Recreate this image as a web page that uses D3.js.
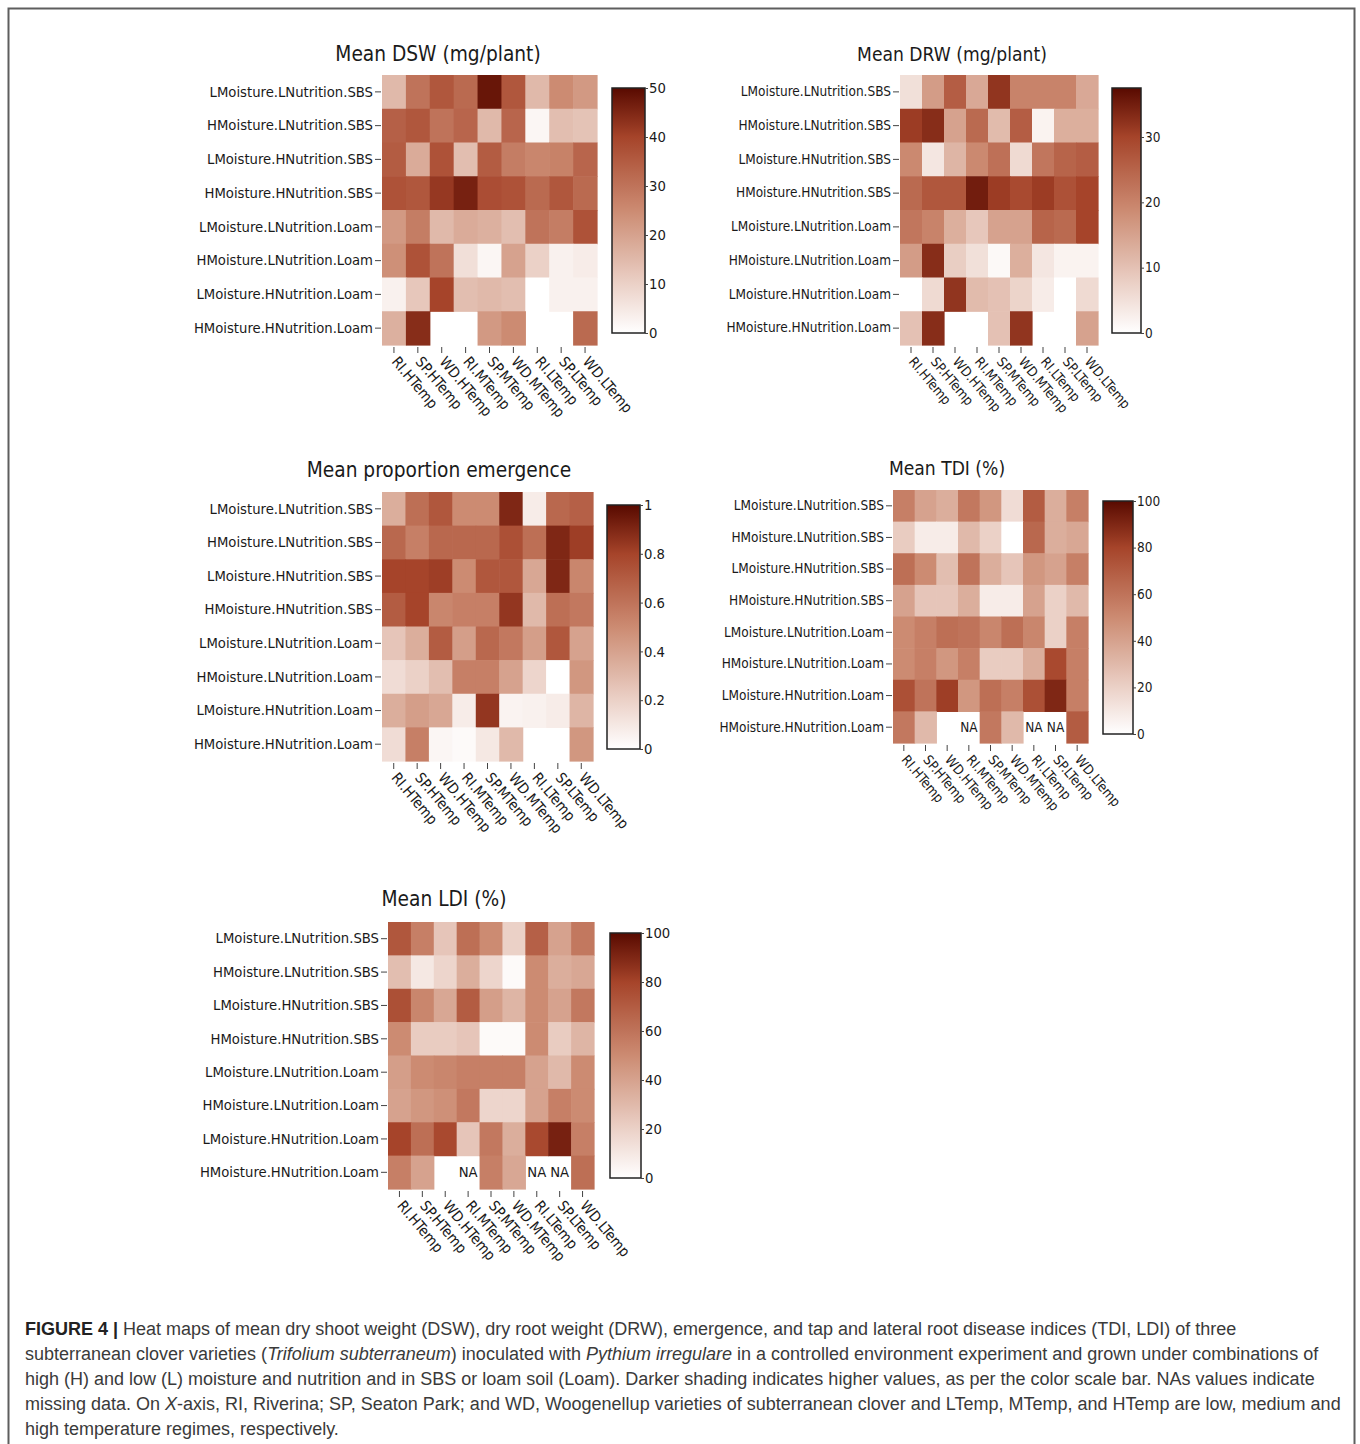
<!DOCTYPE html>
<html>
<head>
<meta charset="utf-8">
<script src="https://cdn.jsdelivr.net/npm/d3@7"></script>
<style>
  html, body { margin: 0; padding: 0; background: #fff; }
  svg { display: block; }
</style>
</head>
<body>
<script>
// ---------------- DATA ----------------
const rowLabels = [
  "LMoisture.LNutrition.SBS", "HMoisture.LNutrition.SBS",
  "LMoisture.HNutrition.SBS", "HMoisture.HNutrition.SBS",
  "LMoisture.LNutrition.Loam", "HMoisture.LNutrition.Loam",
  "LMoisture.HNutrition.Loam", "HMoisture.HNutrition.Loam"
];
const colLabels = ["RI.HTemp", "SP.HTemp", "WD.HTemp", "RI.MTemp", "SP.MTemp",
                   "WD.MTemp", "RI.LTemp", "SP.LTemp", "WD.LTemp"];

// null = empty cell, "NA" = empty cell labelled NA
const dswValues = [
  [15, 30, 36, 32, 48, 36, 15, 25, 22],
  [34, 36, 30, 33, 15, 33,  2, 14, 13],
  [35, 18, 37, 14, 35, 28, 26, 27, 33],
  [37, 36, 42, 46, 38, 37, 32, 36, 32],
  [22, 28, 15, 18, 17, 14, 30, 28, 37],
  [24, 37, 30,  7,  2, 20, 10,  3,  4],
  [ 3, 12, 40, 14, 15, 14,  0,  3,  3],
  [17, 44, null, null, 22, 25, null, null, 32]
];
const drwValues = [
  [ 5, 16, 26, 14, 32, 20, 20, 20, 14],
  [31, 33, 15, 24, 11, 26,  2, 13, 13],
  [19,  4, 12, 19, 23,  6, 22, 25, 26],
  [24, 27, 27, 35, 31, 29, 31, 28, 30],
  [22, 20, 13,  9, 15, 15, 25, 24, 30],
  [16, 33,  8,  5,  1, 13,  4,  2,  2],
  [ 0,  6, 32, 11, 10,  7,  3,  0,  6],
  [10, 33, null, null, 10, 32, null, null, 15]
];
const emergenceValues = [
  [0.35, 0.62, 0.72, 0.50, 0.50, 0.90, 0.08, 0.65, 0.68],
  [0.65, 0.55, 0.65, 0.65, 0.65, 0.75, 0.62, 0.90, 0.82],
  [0.80, 0.80, 0.82, 0.50, 0.72, 0.72, 0.38, 0.90, 0.52],
  [0.70, 0.80, 0.52, 0.55, 0.55, 0.85, 0.30, 0.62, 0.58],
  [0.25, 0.35, 0.70, 0.42, 0.65, 0.58, 0.42, 0.72, 0.40],
  [0.15, 0.20, 0.28, 0.55, 0.55, 0.40, 0.18, 0.00, 0.45],
  [0.35, 0.42, 0.38, 0.08, 0.85, 0.05, 0.06, 0.08, 0.32],
  [0.15, 0.55, 0.04, 0.02, 0.10, 0.30, null, null, 0.45]
];
const tdiValues = [
  [55, 40, 35, 58, 45, 15, 70, 35, 55],
  [22,  8,  8, 30, 20,  0, 65, 35, 38],
  [62, 50, 28, 60, 35, 25, 45, 40, 55],
  [40, 25, 25, 35,  8,  8, 40, 20, 30],
  [50, 55, 62, 60, 52, 62, 52, 20, 55],
  [50, 55, 45, 55, 22, 22, 35, 78, 55],
  [75, 60, 82, 45, 62, 55, 75, 90, 55],
  [58, 30, null, "NA", 58, 30, "NA", "NA", 70]
];
const ldiValues = [
  [72, 55, 25, 62, 50, 20, 68, 40, 58],
  [28, 10, 18, 35, 18,  2, 50, 35, 38],
  [75, 52, 38, 70, 42, 32, 50, 40, 58],
  [50, 22, 22, 25,  2,  2, 50, 22, 32],
  [42, 50, 52, 55, 55, 55, 40, 30, 50],
  [40, 45, 48, 58, 18, 18, 40, 55, 50],
  [80, 62, 78, 25, 58, 35, 78, 92, 55],
  [55, 40, null, "NA", 55, 38, "NA", "NA", 62]
];

const dswTicks = [0, 10, 20, 30, 40, 50];
const drwTicks = [0, 10, 20, 30];
const emergenceTicks = [0, 0.2, 0.4, 0.6, 0.8, 1];
const tdiTicks = [0, 20, 40, 60, 80, 100];
const ldiTicks = [0, 20, 40, 60, 80, 100];

const titles = ["Mean DSW (mg/plant)", "Mean DRW (mg/plant)", "Mean proportion emergence",
                "Mean TDI (%)", "Mean LDI (%)"];
const zMax = [50, 37.5, 1, 100, 100];

const captionLines = [
  [["b", "FIGURE 4 | "], ["n", "Heat maps of mean dry shoot weight (DSW), dry root weight (DRW), emergence, and tap and lateral root disease indices (TDI, LDI) of three"]],
  [["n", "subterranean clover varieties ("], ["i", "Trifolium subterraneum"], ["n", ") inoculated with "], ["i", "Pythium irregulare"], ["n", " in a controlled environment experiment and grown under combinations of"]],
  [["n", "high (H) and low (L) moisture and nutrition and in SBS or loam soil (Loam). Darker shading indicates higher values, as per the color scale bar. NAs values indicate"]],
  [["n", "missing data. On "], ["i", "X"], ["n", "-axis, RI, Riverina; SP, Seaton Park; and WD, Woogenellup varieties of subterranean clover and LTemp, MTemp, and HTemp are low, medium and"]],
  [["n", "high temperature regimes, respectively."]]
];

// ---------------- LAYOUT ----------------
const W = 1360, H = 1444;
const layout = [
  { values: dswValues, ticks: dswTicks, grid: [382, 75, 597, 345], cb: [612, 88, 645, 333], tx: 438, ty: 61, fs: 14.7, tfs: 20.7 },
  { values: drwValues, ticks: drwTicks, grid: [900, 75, 1098, 345], cb: [1112, 88, 1141, 333], tx: 952, ty: 61, fs: 13.5, tfs: 19.1 },
  { values: emergenceValues, ticks: emergenceTicks, grid: [382, 492, 593, 761], cb: [607, 505, 640, 749], tx: 439, ty: 477, fs: 14.7, tfs: 20.7 },
  { values: tdiValues, ticks: tdiTicks, grid: [893, 490, 1088, 743], cb: [1103, 501, 1133, 734], tx: 947, ty: 475, fs: 13.5, tfs: 19.1 },
  { values: ldiValues, ticks: ldiTicks, grid: [388, 922, 594, 1189], cb: [610, 933, 641, 1178], tx: 444, ty: 906, fs: 14.7, tfs: 20.7 }
];
const colorStops = [0, 0.5, 0.8, 1];
const colorRange = ["#ffffff", "#cc8b72", "#a6442a", "#580a00"];
const FONT = "'DejaVu Sans Condensed', 'DejaVu Sans', Verdana, sans-serif";
const TEXT = "#1a1a1a";

const svg = d3.select("body").append("svg").attr("width", W).attr("height", H)
  .attr("viewBox", `0 0 ${W} ${H}`);
svg.append("rect").attr("width", W).attr("height", H).attr("fill", "#fff");
svg.append("rect").attr("x", 8.5).attr("y", 8.5).attr("width", 1346).attr("height", 1460)
  .attr("fill", "none").attr("stroke", "#5e5e5e").attr("stroke-width", 2);

const defs = svg.append("defs");

layout.forEach((p, pi) => {
  const [gx0, gy0, gx1, gy1] = p.grid;
  const zmax = zMax[pi];
  const x = d3.scaleBand().domain(colLabels).range([gx0, gx1]);
  const y = d3.scaleBand().domain(rowLabels).range([gy0, gy1]);
  const color = d3.scaleLinear().domain(colorStops.map(t => t * zmax)).range(colorRange).clamp(true);
  const g = svg.append("g");

  // title
  g.append("text").attr("x", p.tx).attr("y", p.ty).attr("text-anchor", "middle")
    .attr("font-family", FONT).attr("font-size", p.tfs).attr("fill", TEXT)
    .text(titles[pi]);

  // cells
  const cells = [];
  p.values.forEach((row, ri) => row.forEach((v, ci) => cells.push({ r: rowLabels[ri], c: colLabels[ci], v })));
  g.selectAll("rect.cell").data(cells.filter(d => typeof d.v === "number")).join("rect")
    .attr("class", "cell")
    .attr("x", d => x(d.c)).attr("y", d => y(d.r))
    .attr("width", x.bandwidth() + 0.6).attr("height", y.bandwidth() + 0.6)
    .attr("fill", d => color(d.v));
  g.selectAll("text.na").data(cells.filter(d => d.v === "NA")).join("text")
    .attr("class", "na")
    .attr("x", d => x(d.c) + x.bandwidth() / 2).attr("y", d => y(d.r) + y.bandwidth() / 2)
    .attr("dy", "0.35em").attr("text-anchor", "middle")
    .attr("font-family", FONT).attr("font-size", p.fs).attr("fill", TEXT).text("NA");

  // y axis
  const yAxis = g.append("g").attr("transform", `translate(${gx0 - 1},0)`)
    .call(d3.axisLeft(y).tickSize(6).tickPadding(2));
  yAxis.select(".domain").remove();
  yAxis.selectAll("line").attr("stroke", "#444");
  yAxis.selectAll("text").attr("font-family", FONT).attr("font-size", p.fs).attr("fill", TEXT);

  // x axis
  const xAxis = g.append("g").attr("transform", `translate(0,${gy1 + 2})`)
    .call(d3.axisBottom(x).tickSize(6));
  xAxis.select(".domain").remove();
  xAxis.selectAll("line").attr("stroke", "#444");
  xAxis.selectAll("text").attr("font-family", FONT).attr("font-size", p.fs).attr("fill", TEXT)
    .attr("text-anchor", "start").attr("dy", null).attr("y", 0)
    .attr("transform", "translate(-3,15) rotate(50)");

  // colorbar
  const [cx0, cy0, cx1, cy1] = p.cb;
  const gid = "grad" + pi;
  const grad = defs.append("linearGradient").attr("id", gid)
    .attr("x1", 0).attr("y1", 1).attr("x2", 0).attr("y2", 0);
  d3.range(0, 1.0001, 0.05).forEach(t => {
    grad.append("stop").attr("offset", t).attr("stop-color", color(t * zmax));
  });
  g.append("rect").attr("x", cx0).attr("y", cy0).attr("width", cx1 - cx0).attr("height", cy1 - cy0)
    .attr("fill", `url(#${gid})`).attr("stroke", "#222").attr("stroke-width", 1.5);
  const cs = d3.scaleLinear().domain([0, zmax]).range([cy1, cy0]);
  const cAxis = g.append("g").attr("transform", `translate(${cx1},0)`)
    .call(d3.axisRight(cs).tickValues(p.ticks).tickSize(3).tickPadding(1)
      .tickFormat(d => d3.format("~g")(d)));
  cAxis.select(".domain").remove();
  cAxis.selectAll("line").attr("stroke", "#444");
  cAxis.selectAll("text").attr("font-family", FONT).attr("font-size", p.fs).attr("fill", TEXT);
});

// caption
const cap = svg.append("g").attr("font-family", "'Liberation Sans', Arial, Helvetica, sans-serif")
  .attr("font-size", 18).attr("fill", "#3a3a3a");
captionLines.forEach((parts, li) => {
  const t = cap.append("text").attr("x", 25).attr("y", 1335 + li * 25);
  parts.forEach(([k, s]) => {
    const ts = t.append("tspan").text(s);
    if (k === "b") ts.attr("font-weight", "bold").attr("fill", "#222");
    if (k === "i") ts.attr("font-style", "italic");
  });
});
</script>
</body>
</html>
